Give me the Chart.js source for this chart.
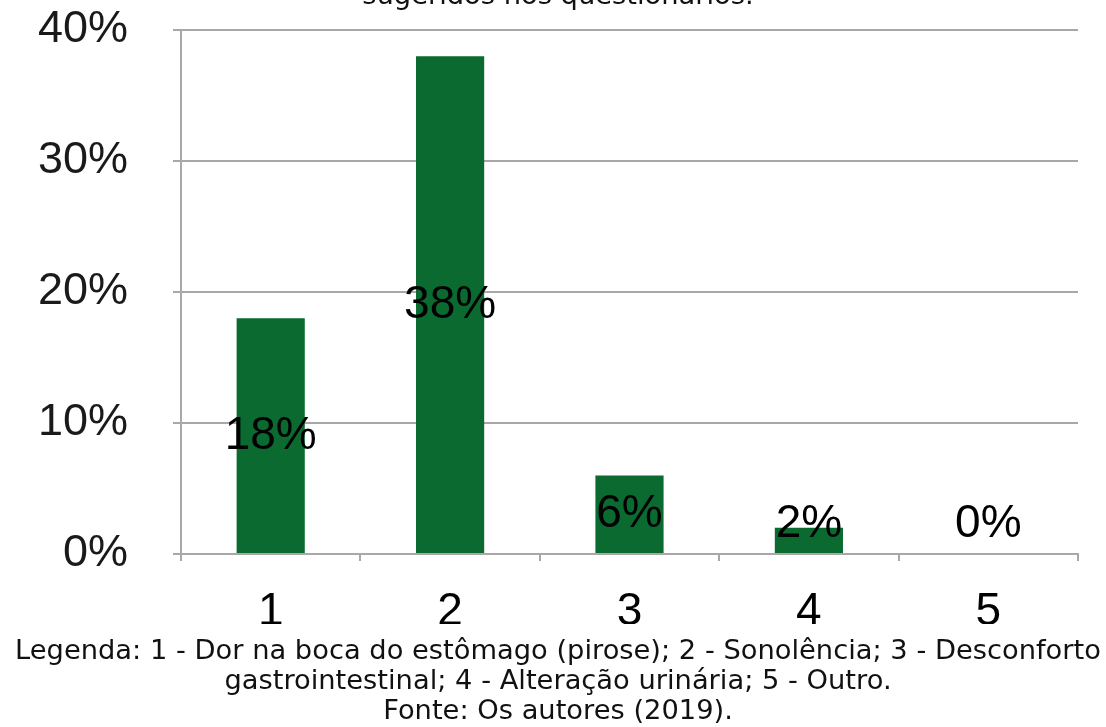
<!DOCTYPE html>
<html>
<head>
<meta charset="utf-8">
<script src="https://cdn.jsdelivr.net/npm/chart.js@4/dist/chart.umd.min.js"></script>
<style>
  html, body { margin:0; padding:0; background:#fff; width:1106px; height:727px; overflow:hidden; position:relative; }
  #wrap { position:absolute; left:0; top:0; width:1106px; height:727px; }
  .txt { position:absolute; font-family:"DejaVu Sans", Verdana, sans-serif; font-size:27.3px; line-height:30px; color:#111; white-space:nowrap; text-align:center; }
  #title { left:-5px; width:1126px; top:-20px; }
  #caption { left:-5px; width:1126px; top:635px; }
</style>
</head>
<body>
<div id="wrap"><canvas id="c" width="1106" height="727"></canvas></div>
<div class="txt" id="title">sugeridos nos questionários.</div>
<div class="txt" id="caption">Legenda: 1 - Dor na boca do estômago (pirose); 2 - Sonolência; 3 - Desconforto<br>gastrointestinal; 4 - Alteração urinária; 5 - Outro.<br>Fonte: Os autores (2019).</div>
<script>
const categories = ["1", "2", "3", "4", "5"];
const values = [18, 38, 6, 2, 0];
const yTicks = [0, 10, 20, 30, 40];

const labelPlugin = {
  id: 'barLabels',
  afterDatasetsDraw(chart) {
    const ctx = chart.ctx;
    const meta = chart.getDatasetMeta(0);
    const zeroY = chart.scales.y.getPixelForValue(0);
    ctx.save();
    ctx.font = '46px "Liberation Sans", Arial, sans-serif';
    ctx.fillStyle = '#000';
    ctx.textAlign = 'center';
    ctx.textBaseline = 'middle';
    meta.data.forEach((bar, i) => {
      const mid = (bar.y + zeroY) / 2;
      const y = Math.min(mid, zeroY - 30);
      ctx.fillText(values[i] + '%', bar.x, y);
    });
    ctx.restore();
  }
};

new Chart(document.getElementById('c'), {
  type: 'bar',
  data: {
    labels: categories,
    datasets: [{
      data: values,
      backgroundColor: '#0a6a2f',
      borderWidth: 0,
      barPercentage: 0.38,
      categoryPercentage: 1.0
    }]
  },
  options: {
    responsive: false,
    animation: false,
    layout: { padding: { left: 0, top: 30, right: 28, bottom: 103 } },
    plugins: { legend: { display: false }, tooltip: { enabled: false }, title: { display: false } },
    scales: {
      x: {
        afterFit(s) { s.height = 70; s.paddingLeft = 0; s.paddingRight = 0; },
        grid: { offset: true, drawOnChartArea: false, drawTicks: true, tickLength: 7, color: '#a8a8a8', lineWidth: 2 },
        border: { display: true, color: '#a8a8a8', width: 2 },
        ticks: { color: '#000', padding: 24, font: { family: '"Liberation Sans", Arial, sans-serif', size: 46 } }
      },
      y: {
        min: 0, max: 40,
        afterFit(s) { s.width = 181; s.paddingTop = 0; s.paddingBottom = 0; },
        afterBuildTicks(s) { s.ticks = yTicks.map(v => ({ value: v })); },
        grid: { drawOnChartArea: true, drawTicks: true, tickLength: 8, color: '#a8a8a8', lineWidth: 2 },
        border: { display: true, color: '#a8a8a8', width: 2 },
        ticks: { color: '#1a1a1a', padding: 45, font: { family: '"Liberation Sans", Arial, sans-serif', size: 45 }, callback: v => v + '%' }
      }
    }
  },
  plugins: [labelPlugin]
});
</script>
</body>
</html>
